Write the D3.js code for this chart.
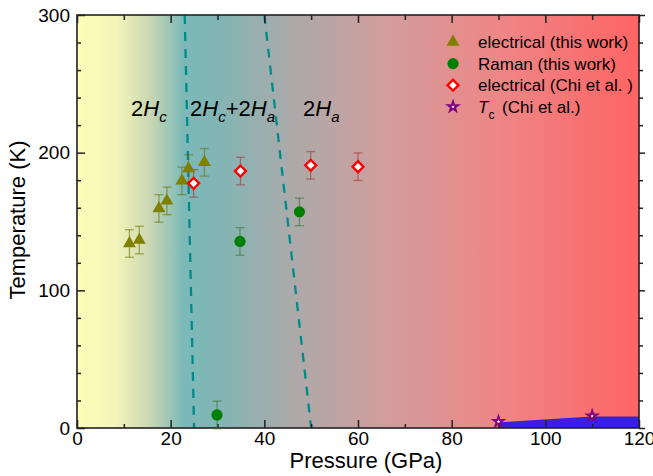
<!DOCTYPE html>
<html>
<head>
<meta charset="utf-8">
<script src="https://cdn.jsdelivr.net/npm/d3@7"></script>
<style>
  body { margin: 0; background: #fff; }
  svg text { font-family: "Liberation Sans", Arial, sans-serif; fill: #000; }
</style>
</head>
<body>
<svg width="653" height="476"></svg>
<script>
// data
const elecThisWork = [
    { p: 11.2, t: 134, err: 10 },
    { p: 13.3, t: 136.5, err: 10 },
    { p: 17.5, t: 159.5, err: 10 },
    { p: 19.2, t: 165, err: 10 },
    { p: 22.4, t: 179.5, err: 10 },
    { p: 23.8, t: 188.5, err: 10 },
    { p: 27.2, t: 193, err: 10 }
];
const ramanThisWork = [
    { p: 29.9, t: 9.5, err: 10 },
    { p: 34.8, t: 135.5, err: 10 },
    { p: 47.5, t: 157, err: 10 }
];
const elecChi = [
    { p: 24.9, t: 177.7, err: 10 },
    { p: 34.9, t: 186.6, err: 10 },
    { p: 49.9, t: 190.8, err: 10 },
    { p: 60.0, t: 189.8, err: 10 }
];
const tcChi = [
    { p: 90, t: 4.6 },
    { p: 110, t: 8.7 }
];
const scRegion = [[90, 4.1], [110, 8.3], [120, 8.3]];
const boundaryA = [[23, 300], [25, 0]];
const boundaryB = [[40, 300], [50, 0]];
const xMajor = [0, 20, 40, 60, 80, 100, 120];
const xMinor = [10, 30, 50, 70, 90, 110];
const yMajor = [0, 100, 200, 300];
const yMinor = [20, 40, 60, 80, 120, 140, 160, 180, 220, 240, 260, 280];

const svg = d3.select("svg"),
    margin = { top: 15, right: 14, bottom: 48, left: 77 },
    width = +svg.attr("width") - margin.left - margin.right,
    height = +svg.attr("height") - margin.top - margin.bottom;

const x = d3.scaleLinear().domain([0, 120]).range([margin.left, margin.left + width]);
const y = d3.scaleLinear().domain([0, 300]).range([margin.top + height, margin.top]);

const defs = svg.append("defs");
const grad = defs.append("linearGradient").attr("id", "bg")
    .attr("x1", "0%").attr("x2", "100%").attr("y1", "0%").attr("y2", "0%");
[
    [0, "#fefeb9"], [0.07, "#f4f4b9"], [0.13, "#cad7b3"], [0.19, "#7bb9b8"],
    [0.25, "#81b5b5"], [0.38, "#abaaaa"], [0.55, "#d29d9d"], [0.75, "#ee8686"], [1, "#ff6464"]
].forEach(s => grad.append("stop").attr("offset", s[0]).attr("stop-color", s[1]));

defs.append("clipPath").attr("id", "clip")
    .append("rect").attr("x", x(0)).attr("y", y(300)).attr("width", x(120) - x(0)).attr("height", y(0) - y(300));

svg.append("rect")
    .attr("x", x(0)).attr("y", y(300))
    .attr("width", x(120) - x(0)).attr("height", y(0) - y(300))
    .attr("fill", "url(#bg)");

const plot = svg.append("g").attr("clip-path", "url(#clip)");

// superconducting region
const area = d3.area().x(d => x(d[0])).y0(y(0)).y1(d => y(d[1]));
plot.append("path").datum(scRegion).attr("d", area).attr("fill", "#3a1fdc");

// phase boundaries
const line = d3.line().x(d => x(d[0])).y(d => y(d[1]));
[boundaryA, boundaryB].forEach(b => {
    plot.append("path").datum(b).attr("d", line)
        .attr("fill", "none").attr("stroke", "#008b8b")
        .attr("stroke-width", 2.3).attr("stroke-dasharray", "9,8");
});

// axes
function drawAxis(axis, tr) {
    const g = svg.append("g").attr("transform", tr).call(axis);
    g.selectAll("line").attr("stroke", "#222").attr("stroke-width", 1.5);
    g.select(".domain").remove();
    g.selectAll("text").attr("font-size", 19).attr("fill", "#000");
    return g;
}
drawAxis(d3.axisBottom(x).tickValues(xMajor).tickSizeInner(-8).tickSizeOuter(0).tickPadding(4), `translate(0,${y(0)})`);
drawAxis(d3.axisBottom(x).tickValues(xMinor).tickSizeInner(-4).tickSizeOuter(0).tickFormat(""), `translate(0,${y(0)})`);
drawAxis(d3.axisLeft(y).tickValues(yMajor).tickSizeInner(-8).tickSizeOuter(0).tickPadding(7), `translate(${x(0)},0)`);
drawAxis(d3.axisLeft(y).tickValues(yMinor).tickSizeInner(-4).tickSizeOuter(0).tickFormat(""), `translate(${x(0)},0)`);
drawAxis(d3.axisTop(x).tickValues(xMajor).tickSizeInner(-8).tickSizeOuter(0).tickFormat(""), `translate(0,${y(300)})`);
drawAxis(d3.axisTop(x).tickValues(xMinor).tickSizeInner(-5).tickSizeOuter(0).tickFormat(""), `translate(0,${y(300)})`);
drawAxis(d3.axisRight(y).tickValues(yMajor).tickSizeInner(6).tickSizeOuter(0).tickFormat(""), `translate(${x(120)},0)`);
drawAxis(d3.axisRight(y).tickValues(yMinor).tickSizeInner(4).tickSizeOuter(0).tickFormat(""), `translate(${x(120)},0)`);

svg.append("rect")
    .attr("x", x(0)).attr("y", y(300))
    .attr("width", x(120) - x(0)).attr("height", y(0) - y(300))
    .attr("fill", "none").attr("stroke", "#222").attr("stroke-width", 1.6);

// error bars
function errorBars(data, color) {
    const g = svg.append("g").attr("stroke", color).attr("stroke-opacity", 0.55).attr("stroke-width", 1.3);
    data.forEach(d => {
        g.append("line").attr("x1", x(d.p)).attr("x2", x(d.p)).attr("y1", y(d.t - d.err)).attr("y2", y(d.t + d.err));
        g.append("line").attr("x1", x(d.p) - 4.5).attr("x2", x(d.p) + 4.5).attr("y1", y(d.t - d.err)).attr("y2", y(d.t - d.err));
        g.append("line").attr("x1", x(d.p) - 4.5).attr("x2", x(d.p) + 4.5).attr("y1", y(d.t + d.err)).attr("y2", y(d.t + d.err));
    });
}
errorBars(elecThisWork, "#6b6b00");
errorBars(ramanThisWork, "#2f6f2f");
errorBars(elecChi, "#a03030");

const triangle = d3.symbol().type(d3.symbolTriangle).size(72);
const diamond = d3.symbol().type(d3.symbolSquare).size(60);
const star = d3.symbol().type(d3.symbolStar).size(30);

svg.append("g").selectAll("path").data(elecThisWork).join("path")
    .attr("d", triangle).attr("fill", "#808000")
    .attr("transform", d => `translate(${x(d.p)},${y(d.t)})`);
svg.append("g").selectAll("circle").data(ramanThisWork).join("circle")
    .attr("cx", d => x(d.p)).attr("cy", d => y(d.t)).attr("r", 5.6).attr("fill", "#008000");
svg.append("g").selectAll("path").data(elecChi).join("path")
    .attr("d", diamond).attr("fill", "#fff").attr("stroke", "#ff0000").attr("stroke-width", 2.4)
    .attr("transform", d => `translate(${x(d.p)},${y(d.t)}) rotate(45)`);
svg.append("g").selectAll("path").data(tcChi).join("path")
    .attr("d", star).attr("fill", "#fff").attr("stroke", "#800080").attr("stroke-width", 2)
    .attr("transform", d => `translate(${x(d.p)},${y(d.t)})`);

// phase labels
function phaseLabel(px, parts) {
    const t = svg.append("text").attr("x", px).attr("y", 116).attr("font-size", 22);
    parts.forEach(p => {
        const s = t.append("tspan").text(p.s);
        if (p.it) s.attr("font-style", "italic");
        if (p.sub) s.attr("font-size", 15).attr("dy", 6);
        if (p.up) s.attr("dy", -6);
    });
}
phaseLabel(131, [{ s: "2" }, { s: "H", it: true }, { s: "c", it: true, sub: true }]);
phaseLabel(190, [{ s: "2" }, { s: "H", it: true }, { s: "c", it: true, sub: true }, { s: "+2", up: true }, { s: "H", it: true }, { s: "a", it: true, sub: true }]);
phaseLabel(303, [{ s: "2" }, { s: "H", it: true }, { s: "a", it: true, sub: true }]);

// axis titles
svg.append("text").attr("x", 366).attr("y", 468).attr("text-anchor", "middle")
    .attr("font-size", 22).text("Pressure (GPa)");
svg.append("text").attr("transform", "translate(25,220) rotate(-90)").attr("text-anchor", "middle")
    .attr("font-size", 22).text("Temperature (K)");

// legend
const legend = svg.append("g");
const lx = 453, ly = 42, dy = 21.6;
legend.append("path").attr("d", triangle).attr("fill", "#808000").attr("transform", `translate(${lx},${ly})`);
legend.append("circle").attr("cx", lx).attr("cy", ly + dy).attr("r", 5.6).attr("fill", "#008000");
legend.append("path").attr("d", diamond).attr("fill", "#fff").attr("stroke", "#ff0000").attr("stroke-width", 2.4)
    .attr("transform", `translate(${lx},${ly + 2 * dy}) rotate(45)`);
legend.append("path").attr("d", star).attr("fill", "#fff").attr("stroke", "#800080").attr("stroke-width", 2)
    .attr("transform", `translate(${lx},${ly + 3 * dy})`);
const legendText = ["electrical (this work)", "Raman (this work)", "electrical (Chi et al. )"];
legendText.forEach((s, i) => {
    legend.append("text").attr("x", 478).attr("y", ly + i * dy + 6).attr("font-size", 17).text(s);
});
const tc = legend.append("text").attr("x", 478).attr("y", ly + 3 * dy + 6).attr("font-size", 17);
tc.append("tspan").attr("font-style", "italic").text("T");
tc.append("tspan").attr("font-size", 12).attr("dy", 6).text("c");
tc.append("tspan").attr("x", 502).attr("dy", -6).text("(Chi et al.)");
</script>
</body>
</html>
